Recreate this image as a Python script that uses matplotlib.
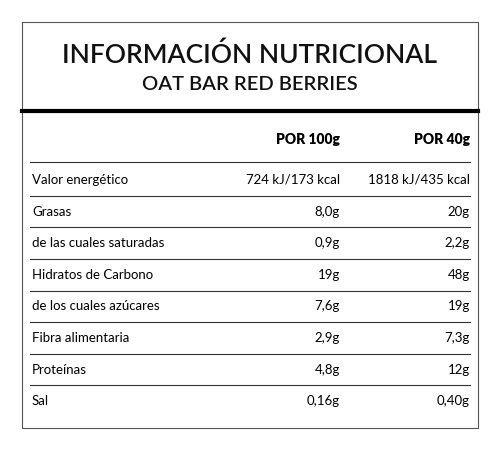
import matplotlib.pyplot as plt

title = "INFORMACIÓN NUTRICIONAL"
subtitle = "OAT BAR RED BERRIES"
headers = ["POR 100g", "POR 40g"]
labels = ["Valor energético", "Grasas", "de las cuales saturadas",
          "Hidratos de Carbono", "de los cuales azúcares",
          "Fibra alimentaria", "Proteínas", "Sal"]
per100 = ["724 kJ/173 kcal", "8,0g", "0,9g", "19g", "7,6g", "2,9g", "4,8g", "0,16g"]
per40 = ["1818 kJ/435 kcal", "20g", "2,2g", "48g", "19g", "7,3g", "12g", "0,40g"]

plt.rcParams['font.family'] = ['Lato', 'DejaVu Sans']
fig = plt.figure(figsize=(5, 4.53), dpi=100)
ax = fig.add_axes([0, 0, 1, 1])
ax.set_xlim(0, 500)
ax.set_ylim(453, 0)
ax.axis('off')

# outer box
ax.plot([22, 478, 478, 22, 22], [22, 22, 428, 428, 22], color='#555555', lw=0.8)

ax.text(250, 55, title, ha='center', va='center', fontsize=19, fontweight='semibold', color='#111111')
ax.text(250, 85, subtitle, ha='center', va='center', fontsize=14.5, fontweight='semibold', color='#111111')
ax.plot([22, 478], [111, 111], color='black', lw=3)

ax.text(340, 139, headers[0], ha='right', va='center', fontsize=10, fontweight='heavy')
ax.text(470, 139, headers[1], ha='right', va='center', fontsize=10, fontweight='heavy')
ax.plot([30, 470], [162, 162], color='#333333', lw=0.8)

row_h = 31.6
for i, lab in enumerate(labels):
    y = 180 + i * row_h
    ax.text(32, y, lab, ha='left', va='center', fontsize=9.5)
    ax.text(340, y, per100[i], ha='right', va='center', fontsize=9.5)
    ax.text(470, y, per40[i], ha='right', va='center', fontsize=9.5)
    if i < len(labels) - 1:
        ax.plot([30, 470], [y + row_h / 2, y + row_h / 2], color='#333333', lw=0.8)

fig.savefig('out.png', dpi=100, facecolor='white')
